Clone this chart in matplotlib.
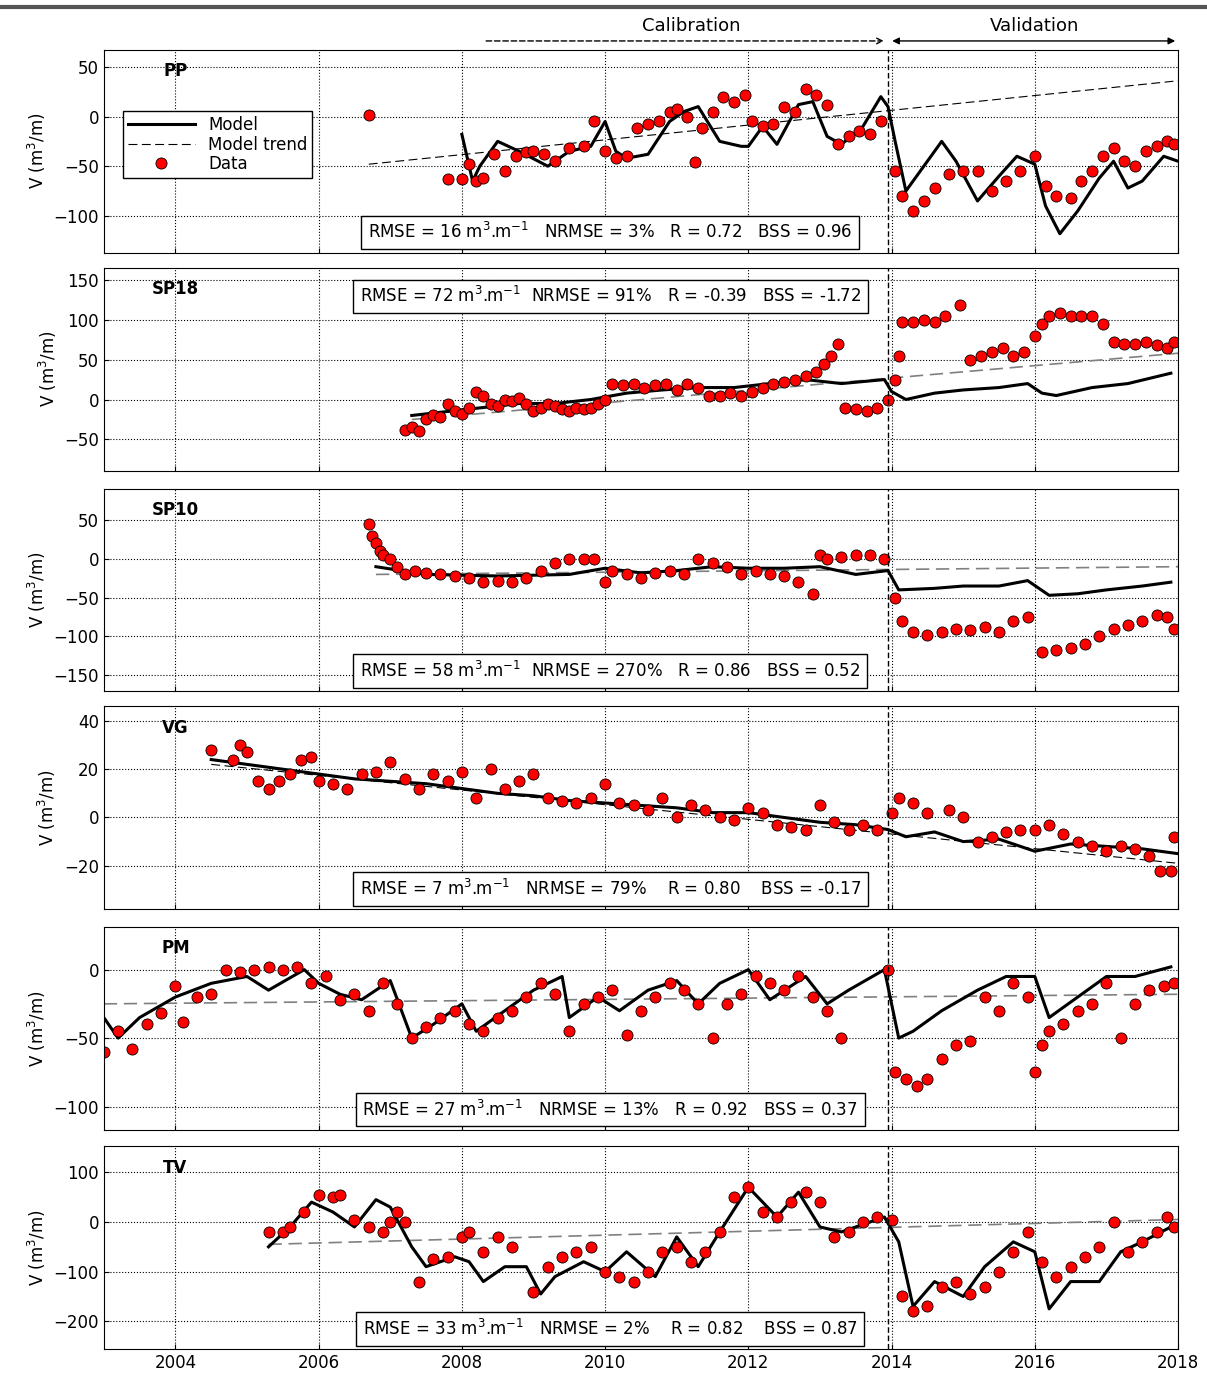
import matplotlib.pyplot as plt

# ---- PP ----
pp_data_t = [2006.7, 2007.8, 2008.0, 2008.1, 2008.2, 2008.3, 2008.45, 2008.6, 2008.75, 2008.9, 2009.0, 2009.15,
             2009.3, 2009.5, 2009.7, 2009.85, 2010.0, 2010.15, 2010.3, 2010.45, 2010.6, 2010.75, 2010.9, 2011.0,
             2011.15, 2011.25, 2011.35, 2011.5, 2011.65, 2011.8, 2011.95, 2012.05, 2012.2, 2012.35, 2012.5, 2012.65,
             2012.8, 2012.95, 2013.1, 2013.25, 2013.4, 2013.55, 2013.7, 2013.85, 2014.05, 2014.15, 2014.3, 2014.45,
             2014.6, 2014.8, 2015.0, 2015.2, 2015.4, 2015.6, 2015.8, 2016.0, 2016.15, 2016.3, 2016.5, 2016.65,
             2016.8, 2016.95, 2017.1, 2017.25, 2017.4, 2017.55, 2017.7, 2017.85, 2017.95]
pp_data_v = [2, -63, -63, -48, -65, -62, -38, -55, -40, -36, -35, -38, -45, -32, -30, -5, -35, -42, -40, -12,
             -8, -5, 5, 8, 0, -46, -12, 5, 20, 15, 22, -5, -10, -8, 10, 5, 28, 22, 12, -28, -20, -15,
             -18, -5, -55, -80, -95, -85, -72, -58, -55, -55, -75, -65, -55, -40, -70, -80, -82, -65,
             -55, -40, -32, -45, -50, -35, -30, -25, -28]
pp_model_t = [2008.0, 2008.15, 2008.25, 2008.5, 2008.8, 2009.2, 2009.5, 2009.8, 2010.0, 2010.15, 2010.3, 2010.6,
              2010.9, 2011.1, 2011.3, 2011.6, 2011.9, 2012.0, 2012.2, 2012.4, 2012.7, 2012.9, 2013.1, 2013.3,
              2013.6, 2013.85, 2013.95, 2014.05, 2014.2, 2014.4, 2014.7, 2014.9, 2015.2, 2015.5, 2015.75,
              2016.0, 2016.15, 2016.35, 2016.6, 2016.9, 2017.1, 2017.3, 2017.5, 2017.8, 2018.0]
pp_model_v = [-18, -65, -50, -25, -35, -50, -35, -30, -5, -35, -42, -38, -5, 5, 10, -25, -30, -30, -10, -28,
              12, 15, -20, -28, -10, 20, 10, -25, -75, -55, -25, -45, -85, -60, -40, -48, -90, -118, -95,
              -62, -45, -72, -65, -40, -45]
pp_trend_t = [2006.7, 2018.0]
pp_trend_v = [-48, 36]

# ---- SP18 ----
sp18_data = [(2007.2, -38), (2007.3, -35), (2007.4, -40), (2007.5, -25), (2007.6, -20), (2007.7, -22),
             (2007.8, -5), (2007.9, -15), (2008.0, -18), (2008.1, -10), (2008.2, 10), (2008.3, 5), (2008.4, -5),
             (2008.5, -8), (2008.6, 0), (2008.7, -2), (2008.8, 2), (2008.9, -5), (2009.0, -15), (2009.1, -10),
             (2009.2, -5), (2009.3, -8), (2009.4, -12), (2009.5, -15), (2009.6, -10), (2009.7, -12), (2009.8, -10),
             (2009.9, -5), (2010.0, 0), (2010.1, 20), (2010.25, 18), (2010.4, 20), (2010.55, 15), (2010.7, 18),
             (2010.85, 20), (2011.0, 12), (2011.15, 20), (2011.3, 15), (2011.45, 5), (2011.6, 5), (2011.75, 8),
             (2011.9, 5), (2012.05, 10), (2012.2, 15), (2012.35, 20), (2012.5, 22), (2012.65, 25), (2012.8, 30),
             (2012.95, 35), (2013.05, 45), (2013.15, 55), (2013.25, 70), (2013.35, -10), (2013.5, -12),
             (2013.65, -15), (2013.8, -10), (2013.95, 0), (2014.05, 25), (2014.1, 55), (2014.15, 97),
             (2014.3, 97), (2014.45, 100), (2014.6, 97), (2014.75, 105), (2014.95, 118), (2015.1, 50),
             (2015.25, 55), (2015.4, 60), (2015.55, 65), (2015.7, 55), (2015.85, 60), (2016.0, 80), (2016.1, 95),
             (2016.2, 105), (2016.35, 108), (2016.5, 105), (2016.65, 105), (2016.8, 105), (2016.95, 95),
             (2017.1, 72), (2017.25, 70), (2017.4, 70), (2017.55, 72), (2017.7, 68), (2017.85, 65), (2017.95, 72)]
sp18_data_t = [p[0] for p in sp18_data]
sp18_data_v = [p[1] for p in sp18_data]
sp18_model_t = [2007.3, 2007.8, 2008.3, 2008.8, 2009.3, 2009.8, 2010.3, 2010.8, 2011.3, 2011.8, 2012.3,
                2012.8, 2013.3, 2013.9, 2014.0, 2014.2, 2014.6, 2015.0, 2015.5, 2015.9, 2016.1, 2016.3,
                2016.8, 2017.3, 2017.9]
sp18_model_v = [-20, -15, -10, -5, -5, 0, 8, 12, 15, 15, 20, 25, 20, 25, 10, 0, 8, 12, 15, 20, 8, 5, 15,
                20, 33]
sp18_trend_t = [2007.3, 2018.0]
sp18_trend_v = [-25, 58]

# ---- SP10 ----
sp10_data_t = [2006.7, 2006.75, 2006.8, 2006.85, 2006.9, 2007.0, 2007.1, 2007.2, 2007.35, 2007.5, 2007.7,
               2007.9, 2008.1, 2008.3, 2008.5, 2008.7, 2008.9, 2009.1, 2009.3, 2009.5, 2009.7, 2009.85, 2010.0,
               2010.1, 2010.3, 2010.5, 2010.7, 2010.9, 2011.1, 2011.3, 2011.5, 2011.7, 2011.9, 2012.1, 2012.3,
               2012.5, 2012.7, 2012.9, 2013.0, 2013.1, 2013.3, 2013.5, 2013.7, 2013.9, 2014.05, 2014.15, 2014.3,
               2014.5, 2014.7, 2014.9, 2015.1, 2015.3, 2015.5, 2015.7, 2015.9, 2016.1, 2016.3, 2016.5, 2016.7,
               2016.9, 2017.1, 2017.3, 2017.5, 2017.7, 2017.85, 2017.95]
sp10_data_v = [45, 30, 20, 10, 5, 0, -10, -20, -15, -18, -20, -22, -25, -30, -28, -30, -25, -15, -5, 0, 0,
               0, -30, -15, -20, -25, -18, -15, -20, 0, -5, -10, -20, -15, -20, -22, -30, -45, 5, 0, 2, 5,
               5, 0, -50, -80, -95, -98, -95, -90, -92, -88, -95, -80, -75, -120, -118, -115, -110, -100, -90,
               -85, -80, -72, -75, -90]
sp10_model_t = [2006.8, 2007.5, 2008.5, 2009.5, 2010.0, 2010.5, 2011.0, 2011.5, 2012.0, 2012.5, 2013.0,
                2013.5, 2013.95, 2014.1, 2014.6, 2015.0, 2015.5, 2015.9, 2016.2, 2016.6, 2017.0, 2017.5, 2017.9]
sp10_model_v = [-10, -20, -22, -20, -12, -18, -15, -10, -12, -12, -10, -20, -15, -40, -38, -35, -35, -28,
                -47, -45, -40, -35, -30]
sp10_trend_t = [2006.8, 2018.0]
sp10_trend_v = [-20, -10]

# ---- VG ----
vg_data_t = [2004.5, 2004.8, 2004.9, 2005.0, 2005.15, 2005.3, 2005.45, 2005.6, 2005.75, 2005.9, 2006.0, 2006.2,
             2006.4, 2006.6, 2006.8, 2007.0, 2007.2, 2007.4, 2007.6, 2007.8, 2008.0, 2008.2, 2008.4, 2008.6,
             2008.8, 2009.0, 2009.2, 2009.4, 2009.6, 2009.8, 2010.0, 2010.2, 2010.4, 2010.6, 2010.8, 2011.0,
             2011.2, 2011.4, 2011.6, 2011.8, 2012.0, 2012.2, 2012.4, 2012.6, 2012.8, 2013.0, 2013.2, 2013.4,
             2013.6, 2013.8, 2014.0, 2014.1, 2014.3, 2014.5, 2014.8, 2015.0, 2015.2, 2015.4, 2015.6, 2015.8,
             2016.0, 2016.2, 2016.4, 2016.6, 2016.8, 2017.0, 2017.2, 2017.4, 2017.6, 2017.75, 2017.9, 2017.95]
vg_data_v = [28, 24, 30, 27, 15, 12, 15, 18, 24, 25, 15, 14, 12, 18, 19, 23, 16, 12, 18, 15, 19, 8, 20, 12,
             15, 18, 8, 7, 6, 8, 14, 6, 5, 3, 8, 0, 5, 3, 0, -1, 4, 2, -3, -4, -5, 5, -2, -5, -3, -5, 2, 8,
             6, 2, 3, 0, -10, -8, -6, -5, -5, -3, -7, -10, -12, -14, -12, -13, -16, -22, -22, -8]
vg_model_t = [2004.5, 2005.0, 2005.5, 2006.0, 2006.5, 2007.0, 2007.5, 2008.0, 2008.5, 2009.0, 2009.5,
              2010.0, 2010.5, 2011.0, 2011.5, 2012.0, 2012.5, 2013.0, 2013.5, 2013.95, 2014.2, 2014.6, 2015.0,
              2015.5, 2016.0, 2016.5, 2017.0, 2017.5, 2018.0]
vg_model_v = [24, 22, 20, 18, 16, 15, 14, 12, 10, 9, 7, 6, 5, 4, 2, 2, 0, -2, -3, -5, -8, -6, -10, -9,
              -14, -11, -12, -13, -15]
vg_trend_t = [2004.5, 2018.0]
vg_trend_v = [22, -19]

# ---- PM ----
pm_data_t = [2003.0, 2003.2, 2003.4, 2003.6, 2003.8, 2004.0, 2004.1, 2004.3, 2004.5, 2004.7, 2004.9, 2005.1,
             2005.3, 2005.5, 2005.7, 2005.9, 2006.1, 2006.3, 2006.5, 2006.7, 2006.9, 2007.1, 2007.3, 2007.5,
             2007.7, 2007.9, 2008.1, 2008.3, 2008.5, 2008.7, 2008.9, 2009.1, 2009.3, 2009.5, 2009.7, 2009.9,
             2010.1, 2010.3, 2010.5, 2010.7, 2010.9, 2011.1, 2011.3, 2011.5, 2011.7, 2011.9, 2012.1, 2012.3,
             2012.5, 2012.7, 2012.9, 2013.1, 2013.3, 2013.95, 2014.05, 2014.2, 2014.35, 2014.5, 2014.7, 2014.9,
             2015.1, 2015.3, 2015.5, 2015.7, 2015.9, 2016.0, 2016.1, 2016.2, 2016.4, 2016.6, 2016.8, 2017.0,
             2017.2, 2017.4, 2017.6, 2017.8, 2017.95]
pm_data_v = [-60, -45, -58, -40, -32, -12, -38, -20, -18, 0, -2, 0, 2, 0, 2, -10, -5, -22, -18, -30, -10,
             -25, -50, -42, -35, -30, -40, -45, -35, -30, -20, -10, -18, -45, -25, -20, -15, -48, -30, -20,
             -10, -15, -25, -50, -25, -18, -5, -10, -15, -5, -20, -30, -50, 0, -75, -80, -85, -80, -65, -55,
             -52, -20, -30, -10, -20, -75, -55, -45, -40, -30, -25, -10, -50, -25, -15, -12, -10]
pm_model_t = [2003.0, 2003.2, 2003.5, 2004.0, 2004.5, 2005.0, 2005.3, 2005.8, 2006.0, 2006.3, 2006.6, 2007.0,
              2007.3, 2007.6, 2008.0, 2008.2, 2008.6, 2009.0, 2009.4, 2009.5, 2009.9, 2010.2, 2010.6, 2011.0,
              2011.3, 2011.6, 2012.0, 2012.3, 2012.8, 2013.1, 2013.4, 2013.9, 2014.1, 2014.3, 2014.7, 2015.2,
              2015.6, 2016.0, 2016.2, 2016.6, 2017.0, 2017.4, 2017.9]
pm_model_v = [-35, -50, -35, -20, -10, -5, -15, 0, -10, -18, -22, -8, -50, -40, -25, -45, -30, -15, -5, -35,
              -20, -30, -15, -8, -25, -10, 0, -22, -5, -25, -15, 0, -50, -45, -30, -15, -5, -5, -35, -20, -5,
              -5, 2]
pm_trend_t = [2003.0, 2018.0]
pm_trend_v = [-25, -18]

# ---- TV ----
tv_data = [(2005.3, -20), (2005.5, -20), (2005.6, -10), (2005.8, 20), (2006.0, 55), (2006.2, 50), (2006.3, 55),
           (2006.5, 5), (2006.7, -10), (2006.9, -20), (2007.0, 0), (2007.1, 20), (2007.2, 0), (2007.4, -120),
           (2007.6, -75), (2007.8, -70), (2008.0, -30), (2008.1, -20), (2008.3, -60), (2008.5, -30),
           (2008.7, -50), (2009.0, -140), (2009.2, -90), (2009.4, -70), (2009.6, -60), (2009.8, -50),
           (2010.0, -100), (2010.2, -110), (2010.4, -120), (2010.6, -100), (2010.8, -60), (2011.0, -50),
           (2011.2, -80), (2011.4, -60), (2011.6, -20), (2011.8, 50), (2012.0, 70), (2012.2, 20), (2012.4, 10),
           (2012.6, 40), (2012.8, 60), (2013.0, 40), (2013.2, -30), (2013.4, -20), (2013.6, 0), (2013.8, 10),
           (2014.0, 5), (2014.15, -150), (2014.3, -180), (2014.5, -170), (2014.7, -130), (2014.9, -120),
           (2015.1, -145), (2015.3, -130), (2015.5, -100), (2015.7, -60), (2015.9, -20), (2016.1, -80),
           (2016.3, -110), (2016.5, -90), (2016.7, -70), (2016.9, -50), (2017.1, 0), (2017.3, -60),
           (2017.5, -40), (2017.7, -20), (2017.85, 10), (2017.95, -10)]
tv_data_t = [p[0] for p in tv_data]
tv_data_v = [p[1] for p in tv_data]
tv_model_t = [2005.3, 2005.6, 2005.9, 2006.2, 2006.5, 2006.8, 2007.0, 2007.3, 2007.5, 2007.9, 2008.1, 2008.3,
              2008.6, 2008.9, 2009.1, 2009.3, 2009.7, 2010.0, 2010.3, 2010.7, 2011.0, 2011.3, 2011.6, 2012.0,
              2012.4, 2012.7, 2013.0, 2013.3, 2013.9, 2014.1, 2014.3, 2014.6, 2015.0, 2015.3, 2015.7, 2016.0,
              2016.2, 2016.5, 2016.9, 2017.2, 2017.5, 2017.9]
tv_model_v = [-50, -10, 40, 20, -10, 45, 30, -50, -90, -70, -80, -120, -90, -90, -145, -110, -80, -100,
              -60, -110, -30, -90, -20, 70, 10, 60, -10, -20, 10, -40, -170, -120, -150, -90, -40, -60,
              -175, -120, -120, -60, -40, -10]
tv_trend_t = [2005.3, 2018.0]
tv_trend_v = [-45, 5]

panels = [
    ("PP", pp_data_t, pp_data_v, pp_model_t, pp_model_v, pp_trend_t, pp_trend_v, (-137, 67), [-100, -50, 0, 50],
     "RMSE = 16 m$^3$.m$^{-1}$   NRMSE = 3%   R = 0.72   BSS = 0.96", "bottom", "k"),
    ("SP18", sp18_data_t, sp18_data_v, sp18_model_t, sp18_model_v, sp18_trend_t, sp18_trend_v, (-89, 165),
     [-50, 0, 50, 100, 150], "RMSE = 72 m$^3$.m$^{-1}$  NRMSE = 91%   R = -0.39   BSS = -1.72", "top", "gray"),
    ("SP10", sp10_data_t, sp10_data_v, sp10_model_t, sp10_model_v, sp10_trend_t, sp10_trend_v, (-171, 91),
     [-150, -100, -50, 0, 50], "RMSE = 58 m$^3$.m$^{-1}$  NRMSE = 270%   R = 0.86   BSS = 0.52", "bottom", "gray"),
    ("VG", vg_data_t, vg_data_v, vg_model_t, vg_model_v, vg_trend_t, vg_trend_v, (-38, 46), [-20, 0, 20, 40],
     "RMSE = 7 m$^3$.m$^{-1}$   NRMSE = 79%    R = 0.80    BSS = -0.17", "bottom", "k"),
    ("PM", pm_data_t, pm_data_v, pm_model_t, pm_model_v, pm_trend_t, pm_trend_v, (-117, 31), [-100, -50, 0],
     "RMSE = 27 m$^3$.m$^{-1}$   NRMSE = 13%   R = 0.92   BSS = 0.37", "bottom", "gray"),
    ("TV", tv_data_t, tv_data_v, tv_model_t, tv_model_v, tv_trend_t, tv_trend_v, (-256, 152), [-200, -100, 0, 100],
     "RMSE = 33 m$^3$.m$^{-1}$   NRMSE = 2%    R = 0.82    BSS = 0.87", "bottom", "gray"),
]

fig = plt.figure(figsize=(12.07, 13.88), dpi=100)
tops = [0.964, 0.807, 0.648, 0.491, 0.332, 0.174]
h = 0.146
left, width = 0.086, 0.890
split = 2013.95

for i, (name, dt, dv, mt, mv, tt, tv, ylim, yt, stats, pos, tcol) in enumerate(panels):
    ax = fig.add_axes([left, tops[i] - h, width, h])
    ax.plot(tt, tv, linestyle=(0, (8, 4)), color=tcol, lw=1.2 if tcol == "gray" else 0.8, label="Model trend")
    ax.plot(mt, mv, color="k", lw=2.2, label="Model")
    ax.plot(dt, dv, "o", color="red", mec="k", mew=0.6, ms=8, label="Data")
    ax.axvline(split, color="k", ls=(0, (4, 2)), lw=1)
    ax.set_xlim(2003, 2018)
    ax.set_ylim(*ylim)
    ax.set_yticks(yt)
    ax.set_xticks(range(2004, 2019, 2))
    ax.grid(True, color="k", ls=":", lw=0.8)
    ax.tick_params(labelsize=12, direction="in")
    if i < 5:
        ax.set_xticklabels([])
    ax.set_ylabel("V (m$^3$/m)", fontsize=12)
    ax.text(2004.0, ylim[1] - (ylim[1] - ylim[0]) * 0.06, name, fontsize=12, fontweight="bold", va="top",
            ha="center")
    ypos = 0.1 if pos == "bottom" else 0.86
    ax.text(0.4715, ypos, stats, transform=ax.transAxes, fontsize=12, ha="center", va="center",
            bbox=dict(boxstyle="square,pad=0.4", fc="white", ec="k", lw=1))
    if i == 0:
        handles, labels = ax.get_legend_handles_labels()
        leg = ax.legend([handles[1], handles[0], handles[2]], [labels[1], labels[0], labels[2]],
                        loc="upper left", bbox_to_anchor=(0.01, 0.74), fontsize=12, fancybox=False,
                        edgecolor="k", framealpha=1, handlelength=4, borderpad=0.3, labelspacing=0.1)
        leg.get_frame().set_linewidth(1)
        yf = 0.9705
        ax.annotate("", xy=(split - 0.02, yf), xytext=(2008.3, yf), xycoords=("data", "figure fraction"),
                    textcoords=("data", "figure fraction"),
                    arrowprops=dict(arrowstyle="->", ls=(0, (4, 2)), color="k", lw=1))
        ax.annotate("", xy=(2018, yf), xytext=(split + 0.02, yf), xycoords=("data", "figure fraction"),
                    textcoords=("data", "figure fraction"),
                    arrowprops=dict(arrowstyle="<|-|>", color="k", lw=1, mutation_scale=10))
        ax.annotate("Calibration", xy=(2011.2, 0.975), xycoords=("data", "figure fraction"), ha="center",
                    va="bottom", fontsize=13)
        ax.annotate("Validation", xy=(2016.0, 0.975), xycoords=("data", "figure fraction"), ha="center",
                    va="bottom", fontsize=13)

fig.add_artist(plt.Line2D([0, 1], [0.995, 0.995], color="#555555", lw=3, transform=fig.transFigure))
fig.savefig("out.png", dpi=100)
